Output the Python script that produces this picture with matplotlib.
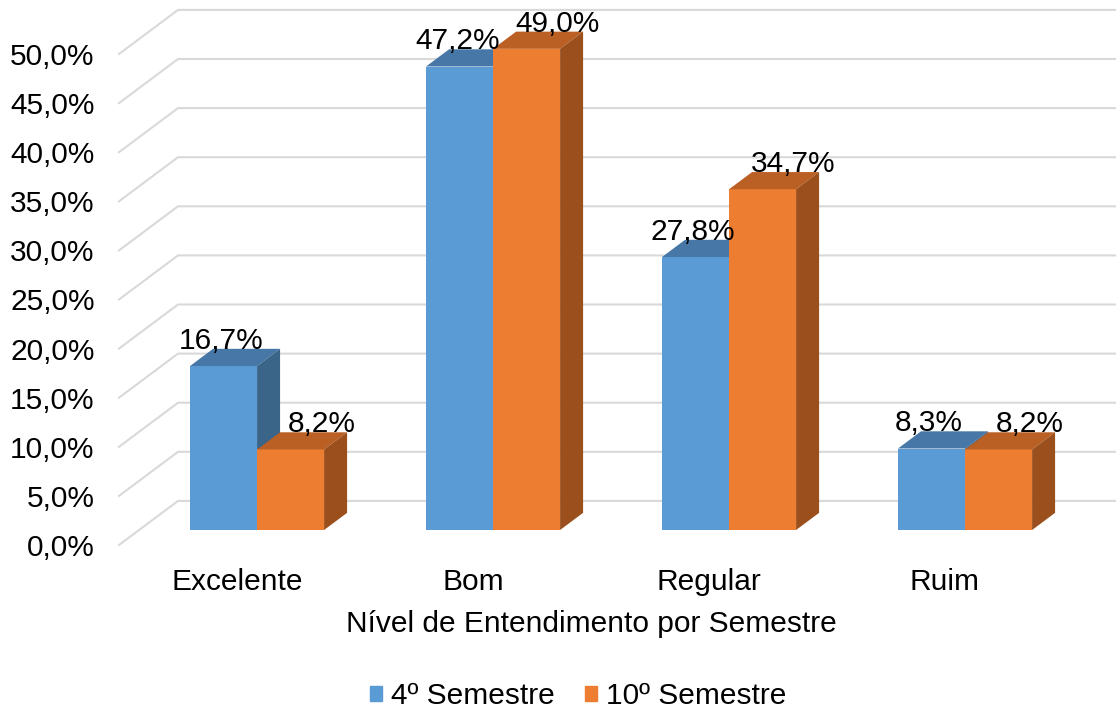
import matplotlib.pyplot as plt
from matplotlib.patches import Polygon, Patch

categorias = ['Excelente', 'Bom', 'Regular', 'Ruim']
semestre_4 = [16.7, 47.2, 27.8, 8.3]
semestre_10 = [8.2, 49.0, 34.7, 8.2]
series = ['4º Semestre', '10º Semestre']
yticks = [0, 5, 10, 15, 20, 25, 30, 35, 40, 45, 50]

plt.rcParams['font.family'] = ['Liberation Sans', 'DejaVu Sans']
plt.rcParams['font.size'] = 21.5

# cores: face frontal, topo, lateral
cores_4 = ('#5B9BD5', '#4677A6', '#3B6489')
cores_10 = ('#ED7D31', '#BA6024', '#9A4F1D')

# profundidade da caixa 3D (unidades de x, unidades de %)
DX, DY = 0.25, 4.49
d0, d1 = 0.34, 0.73   # frente e fundo das barras
W = 0.284


def fmt(v):
    return f'{v:.1f}%'.replace('.', ',')


def barra3d(ax, x0, v, cores, dx_rot):
    front, top, side = cores
    fx = x0 + d0 * DX
    fy = d0 * DY
    ddx = (d1 - d0) * DX
    ddy = (d1 - d0) * DY
    ax.bar(fx, v, width=W, bottom=fy, align='edge', color=front,
           linewidth=0, zorder=3, clip_on=False)
    ax.add_patch(Polygon([(fx, fy + v), (fx + W, fy + v),
                          (fx + W + ddx, fy + v + ddy), (fx + ddx, fy + v + ddy)],
                         closed=True, facecolor=top, lw=0, zorder=3, clip_on=False))
    ax.add_patch(Polygon([(fx + W, fy), (fx + W, fy + v),
                          (fx + W + ddx, fy + v + ddy), (fx + W + ddx, fy + ddy)],
                         closed=True, facecolor=side, lw=0, zorder=3, clip_on=False))
    ax.text(fx + W / 2 + dx_rot, v + d1 * DY, fmt(v), ha='center', va='baseline',
            zorder=5, clip_on=False)


fig = plt.figure(figsize=(11.16, 7.11), dpi=100)
ax = fig.add_axes([119 / 1116, 166 / 711, 944 / 1116, 491 / 711])
ax.set_xlim(0, 4)
ax.set_ylim(0, 50)

# linhas de grade: diagonal na lateral e horizontal na parede do fundo
for v in yticks:
    ax.plot([0, DX, 4 + DX], [v, v + DY, v + DY], color='#D9D9D9', lw=1.5,
            zorder=1, clip_on=False)

for i in range(len(categorias)):
    barra3d(ax, i + 0.5 - W, semestre_4[i], cores_4, -0.01)
    barra3d(ax, i + 0.5, semestre_10[i], cores_10, 0.13)

for s in ax.spines.values():
    s.set_visible(False)
ax.set_yticks(yticks, [fmt(v) for v in yticks])
ax.set_xticks([0.5, 1.5, 2.5, 3.5], categorias)
ax.tick_params(axis='y', length=0, pad=17.5)
ax.tick_params(axis='x', length=0, pad=16.5)
ax.set_xlabel('Nível de Entendimento por Semestre', labelpad=10)

handles = [Patch(color=cores_4[0]), Patch(color=cores_10[0])]
fig.legend(handles, series, loc='lower center', bbox_to_anchor=(0.518, -0.037),
           ncol=2, frameon=False, handlelength=0.4, handleheight=0.4,
           handletextpad=0.3, columnspacing=1.0)

fig.savefig('out.png', dpi=100)
